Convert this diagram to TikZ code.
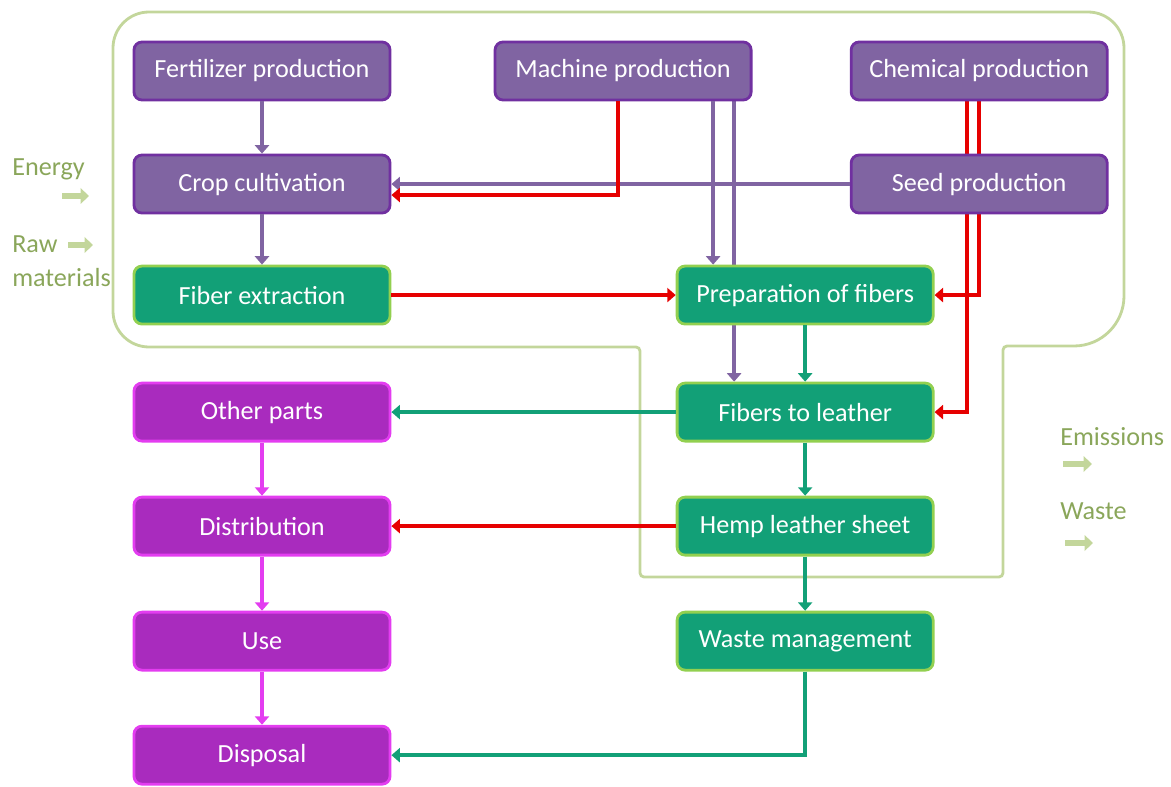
\documentclass[tikz,border=0pt]{standalone}
\usepackage{fontspec}
\setmainfont{Carlito}
\usepackage{tikz}
\usetikzlibrary{arrows.meta,positioning,calc,backgrounds}
\definecolor{stagepurple}{HTML}{8064A2}
\definecolor{purpleedge}{HTML}{7030A0}
\definecolor{stagegreen}{HTML}{12A077}
\definecolor{greenedge}{HTML}{92D050}
\definecolor{stagepink}{HTML}{A92BBE}
\definecolor{pinkedge}{HTML}{E33DF0}
\definecolor{flowred}{HTML}{E60000}
\definecolor{limitline}{HTML}{C3D69B}
\definecolor{sidetext}{HTML}{8AA65A}
\tikzstyle{stagebox}=[rounded corners=0.2cm,line width=2pt,minimum width=6.4cm,minimum height=1.45cm,inner sep=0pt,text=white,font=\fontsize{18.6}{21}\selectfont]
\tikzstyle{purplebox}=[stagebox,draw=purpleedge,fill=stagepurple]
\tikzstyle{greenbox}=[stagebox,draw=greenedge,fill=stagegreen]
\tikzstyle{pinkbox}=[stagebox,draw=pinkedge,fill=stagepink]

\begin{document}
\begin{tikzpicture}[x=0.025cm,y=-0.025cm,on grid,>={Triangle[length=6pt,width=10pt]}]
	\tikzstyle{flow}=[line width=3.2pt,->]
	\tikzstyle{purpleflow}=[flow,draw=stagepurple]
	\tikzstyle{redflow}=[flow,draw=flowred]
	\tikzstyle{greenflow}=[flow,draw=stagegreen]
	\tikzstyle{pinkflow}=[flow,draw=pinkedge]
	\tikzstyle{sidelabel}=[anchor=west,inner sep=0pt,text=sidetext,font=\fontsize{18.6}{21}\selectfont]
	\tikzstyle{sidearrow}=[line width=4.5pt,draw=limitline,-{Triangle[length=6pt,width=11pt]}]
	\useasboundingbox (0,0) rectangle (1171,787);

	\node[purplebox]	(fert)	at (262,71)		{Fertilizer production};
	\node[purplebox]	(mach)	[right=9.025cm of fert]	{Machine production};
	\node[purplebox]	(chem)	[right=8.9cm of mach]	{Chemical production};
	\node[purplebox]	(crop)	[below=2.825cm of fert]	{Crop cultivation};
	\node[purplebox]	(seed)	[below=2.825cm of chem]	{Seed production};
	\node[greenbox]		(fibex)	[below=2.775cm of crop]	{Fiber extraction};
	\node[greenbox]		(prep)	[right=13.575cm of fibex] {Preparation of fibers};
	\node[greenbox]		(tolea)	[below=2.925cm of prep]	{Fibers to leather};
	\node[greenbox]		(sheet)	[below=2.85cm of tolea]	{Hemp leather sheet};
	\node[greenbox]		(wastem) [below=2.875cm of sheet] {Waste management};
	\node[pinkbox]		(other)	[left=13.575cm of tolea] {Other parts};
	\node[pinkbox]		(distr)	[below=2.85cm of other]	{Distribution};
	\node[pinkbox]		(use)	[below=2.875cm of distr] {Use};
	\node[pinkbox]		(disp)	[below=2.85cm of use]	{Disposal};

	% inputs and outputs
	\node[sidelabel]	(energy)	at (12,169)	{Energy};
	\node[sidelabel]	(raw)		at (12,244)	{Raw};
	\node[sidelabel]	(mater)		at (12,278)	{materials};
	\node[sidelabel]	(emis)		at (1060,437)	{Emissions};
	\node[sidelabel]	(wasteout)	at (1060,511)	{Waste};
	\coordinate (energyin) at (62,196);
	\coordinate (rawin) at (68,245);
	\coordinate (emisout) at (1063,464);
	\coordinate (wasteoutarr) at (1065,543);
	\draw[sidearrow] (energyin) -- ++(27,0);
	\draw[sidearrow] (rawin) -- ++(25,0);
	\draw[sidearrow] (emisout) -- ++(29,0);
	\draw[sidearrow] (wasteoutarr) -- ++(28,0);

	% system boundary and hidden flows
	\begin{pgfonlayer}{background}
	\draw[limitline,line width=2pt] (640,347) [rounded corners=0.9cm] -- (113,347) -- (113,12) -- (1124,12)
		[rounded corners=1.25cm] -- (1124,346) [rounded corners=0.1cm] -- (1003,346) -- (1003,577) -- (640,577) -- cycle;
	\coordinate (machtolea) at ([xshift=2.775cm]mach.south);
	\draw[purpleflow] (machtolea) -- (machtolea |- tolea.north);
	\draw[redflow] (chem.south) |- (prep.east);
	\coordinate (chemtolea) at ([xshift=-0.3cm]chem.south);
	\draw[redflow] (chemtolea) |- (tolea.east);
	\end{pgfonlayer}

	\draw[purpleflow] (fert) -- (crop);
	\draw[purpleflow] (crop) -- (fibex);
	\draw[purpleflow] (seed) -- (crop);
	\coordinate (machred) at ([xshift=-0.125cm]mach.south);
	\coordinate (cropred) at ([yshift=-0.275cm]crop.east);
	\draw[redflow] (machred) |- (cropred);
	\coordinate (machtoprep) at ([xshift=2.25cm]mach.south);
	\draw[purpleflow] (machtoprep) -- (machtoprep |- prep.north);
	\draw[redflow] (fibex) -- (prep);
	\draw[greenflow] (prep) -- (tolea);
	\draw[greenflow] (tolea) -- (other);
	\draw[greenflow] (tolea) -- (sheet);
	\draw[redflow] (sheet) -- (distr);
	\draw[greenflow] (sheet) -- (wastem);
	\draw[greenflow] (wastem) |- (disp);
	\draw[pinkflow] (other) -- (distr);
	\draw[pinkflow] (distr) -- (use);
	\draw[pinkflow] (use) -- (disp);
\end{tikzpicture}
\end{document}
